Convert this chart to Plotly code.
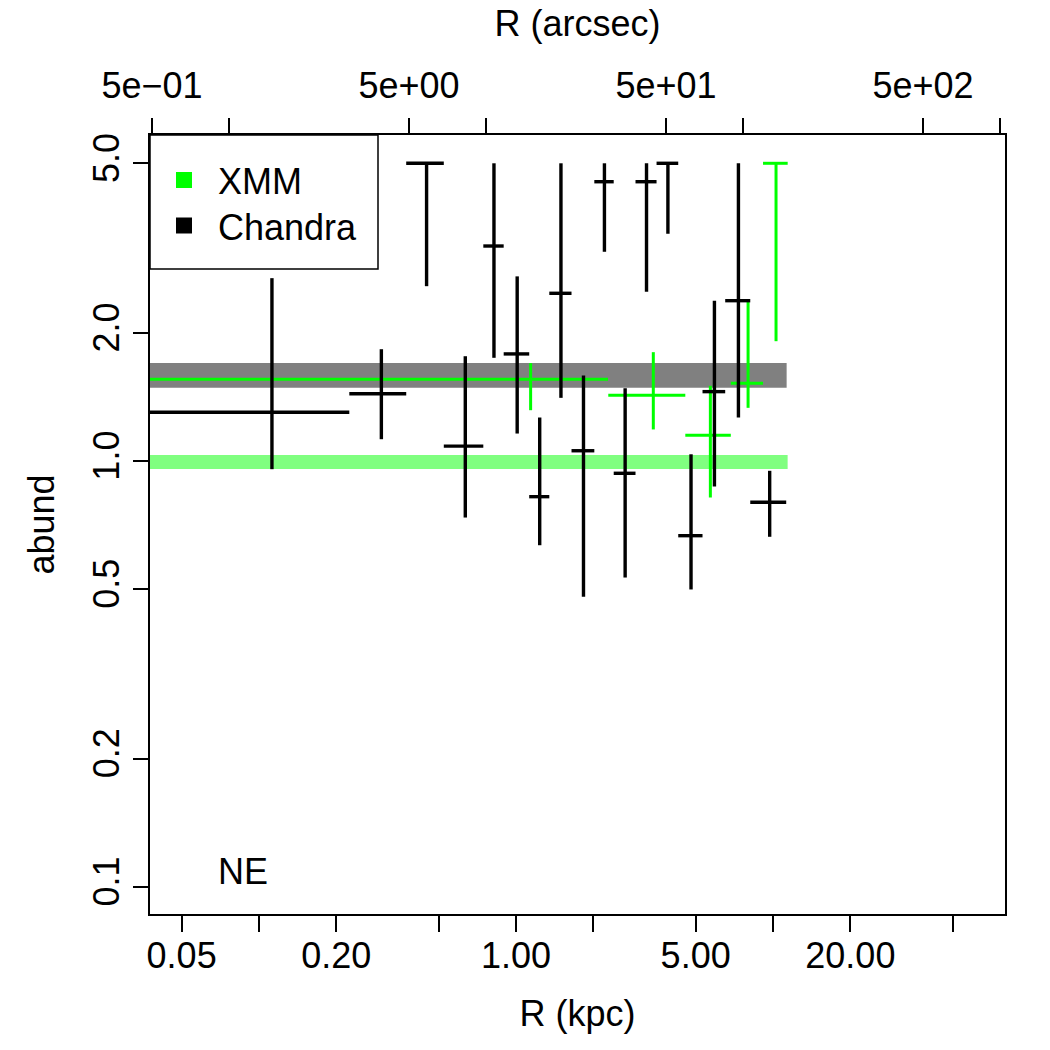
import numpy as np
import plotly.graph_objects as go

# ---------------- data ----------------
# Chandra: radius bin centre (kpc), half-width (kpc), abundance, upper / lower bound
chandra_r = [0.1123, 0.2993, 0.4488, 0.6349, 0.8208, 1.0106, 1.2366, 1.4959, 1.8307,
             2.2085, 2.6587, 3.2201, 3.9003, 4.7976, 5.9169, 7.3364, 9.706]
chandra_r_err = [0.1123, 0.0747, 0.0749, 0.1112, 0.0747, 0.1151, 0.1110, 0.1484, 0.1864,
                 0.1915, 0.2588, 0.3027, 0.3775, 0.5198, 0.5995, 0.8201, 1.550]
chandra_abund = [1.301, 1.439, 5.0, 1.084, 3.197, 1.784, 0.8246, 2.476, 1.057,
                 4.526, 0.9357, 4.526, 5.0, 0.6678, 1.455, 2.379, 0.7999]
chandra_hi = [2.687, 1.830, 5.0, 1.762, 5.0, 2.713, 1.265, 5.0, 1.587,
              5.0, 1.482, 5.0, 5.0, 1.037, 2.377, 5.0, 0.9484]
chandra_lo = [0.9566, 1.125, 2.573, 0.7366, 1.747, 1.160, 0.6342, 1.407, 0.4800,
              3.099, 0.5326, 2.496, 3.416, 0.4993, 0.8713, 1.265, 0.6638]

# XMM
xmm_r = [1.140, 3.422, 5.705, 7.999, 10.275]
xmm_r_err = [1.140, 1.136, 1.147, 1.147, 1.130]
xmm_abund = [1.555, 1.427, 1.149, 1.522, 5.0]
xmm_hi = [1.697, 1.801, 1.502, 2.377, 5.0]
xmm_lo = [1.316, 1.186, 0.8209, 1.333, 1.911]

# mean-abundance bands (low, high) and their outer radius (kpc)
chandra_band = [1.486, 1.698]
xmm_band = [0.958, 1.033]
chandra_band_rmax = 11.3
xmm_band_rmax = 11.4

# conversion between the two x axes
kpc_per_arcsec = 0.0767

# axis limits (R-style, log10 units) and ticks
x_range_log = [-1.4241, 1.9027]
y_range_log = [-1.0636, 0.7654]
x_tickvals = [0.05, 0.1, 0.2, 0.5, 1, 2, 5, 10, 20, 50]
x_ticktext = ["0.05", "", "0.20", "", "1.00", "", "5.00", "", "20.00", ""]
x2_tickvals = [0.5, 1, 5, 10, 50, 100, 500, 1000]
x2_ticktext = ["5e\u221201", "", "5e+00", "", "5e+01", "", "5e+02", ""]
y_tickvals = [0.1, 0.2, 0.5, 1, 2, 5]
y_ticktext = ["0.1", "0.2", "0.5", "1.0", "2.0", "5.0"]

series_names = ["XMM", "Chandra"]
panel_label = "NE"

# ---------------- styles ----------------
FONT = "Liberation Sans, Arial, Helvetica, sans-serif"
FS = 36
GREEN = "#00FF00"
BLACK = "#000000"
LIGHTGREEN = "#80FF80"
GREY = "#808080"
series_colors = [GREEN, BLACK]
band_left = 1e-3  # far beyond the left axis edge (clipped)

# plot area geometry in px (used for the hand-built legend box)
W, H = 1050, 1050
ML, MR, MT, MB = 150, 45, 135, 136
PW, PH = W - ML - MR, H - MT - MB

fig = go.Figure()


def band(lohi, rmax, color):
    fig.add_trace(go.Scatter(
        x=[band_left, rmax, rmax, band_left, band_left],
        y=[lohi[0], lohi[0], lohi[1], lohi[1], lohi[0]],
        mode="lines", fill="toself", fillcolor=color,
        line=dict(width=0, color=color), showlegend=False, hoverinfo="skip"))


band(chandra_band, chandra_band_rmax, GREY)
band(xmm_band, xmm_band_rmax, LIGHTGREEN)


def errtrace(r, rerr, a, hi, lo, color, th):
    a = np.array(a)
    plus = np.array(hi) - a
    minus = a - np.array(lo)
    fig.add_trace(go.Scatter(
        x=r, y=a, mode="markers",
        marker=dict(size=1, color="rgba(0,0,0,0)"),
        error_x=dict(type="data", array=rerr, symmetric=True, width=0,
                     thickness=th, color=color),
        error_y=dict(type="data", array=plus, arrayminus=minus, symmetric=False,
                     width=0, thickness=th, color=color),
        showlegend=False, hoverinfo="skip"))


errtrace(xmm_r, xmm_r_err, xmm_abund, xmm_hi, xmm_lo, GREEN, 3)
errtrace(chandra_r, chandra_r_err, chandra_abund, chandra_hi, chandra_lo, BLACK, 3.4)

# dummy to make the top axis active
fig.add_trace(go.Scatter(x=[None], y=[None], xaxis="x2", yaxis="y", showlegend=False,
                         hoverinfo="skip"))

# ---------------- R-style legend box (top-left) ----------------
def px_x(px):
    return (px - ML) / PW


def px_y(py):
    return (H - MB - py) / PH


shapes = [dict(type="rect", xref="paper", yref="paper",
               x0=px_x(ML), x1=px_x(378), y0=px_y(269), y1=px_y(MT),
               line=dict(color=BLACK, width=1.5), fillcolor="white", layer="above")]
annotations = []
for i, (name, col) in enumerate(zip(series_names, series_colors)):
    cy = 180 + i * 45.5
    shapes.append(dict(type="rect", xref="paper", yref="paper",
                       x0=px_x(176), x1=px_x(192), y0=px_y(cy + 8), y1=px_y(cy - 8),
                       line=dict(width=0), fillcolor=col, layer="above"))
    annotations.append(dict(text=name, xref="paper", yref="paper",
                            x=px_x(216), y=px_y(cy + 2), xanchor="left", yanchor="middle",
                            showarrow=False, font=dict(family=FONT, size=FS, color=BLACK)))

annotations.append(dict(text=panel_label, xref="paper", yref="paper",
                        x=px_x(243), y=px_y(871),
                        xanchor="center", yanchor="middle", showarrow=False,
                        font=dict(family=FONT, size=FS, color=BLACK)))

axis_common = dict(
    type="log", showgrid=False, zeroline=False, ticks="outside",
    tickcolor=BLACK, tickwidth=1.5, showline=True, linecolor=BLACK, linewidth=2,
    tickfont=dict(family=FONT, size=FS, color=BLACK),
)

x2_range = [v - np.log10(kpc_per_arcsec) for v in x_range_log]

fig.update_layout(
    width=W, height=H,
    margin=dict(l=ML, r=MR, t=MT, b=MB, autoexpand=False),
    paper_bgcolor="white", plot_bgcolor="white",
    font=dict(family=FONT, size=FS, color=BLACK),
    showlegend=False,
    xaxis=dict(axis_common, range=x_range_log, tickvals=x_tickvals, ticktext=x_ticktext,
               ticklen=16, mirror=True, ticklabelstandoff=-7,
               title=dict(text="R (kpc)", font=dict(family=FONT, size=FS), standoff=26)),
    xaxis2=dict(axis_common, range=x2_range, tickvals=x2_tickvals, ticktext=x2_ticktext,
                ticklen=15, overlaying="x", side="top", anchor="y", ticklabelstandoff=6,
                title=dict(text="R (arcsec)", font=dict(family=FONT, size=FS), standoff=17)),
    yaxis=dict(axis_common, range=y_range_log, tickvals=y_tickvals, ticktext=y_ticktext,
               ticklen=15, tickangle=-90, mirror=True,
               title=dict(text="abund", font=dict(family=FONT, size=FS), standoff=20)),
    shapes=shapes,
    annotations=annotations,
)

fig.write_html("out.html")
